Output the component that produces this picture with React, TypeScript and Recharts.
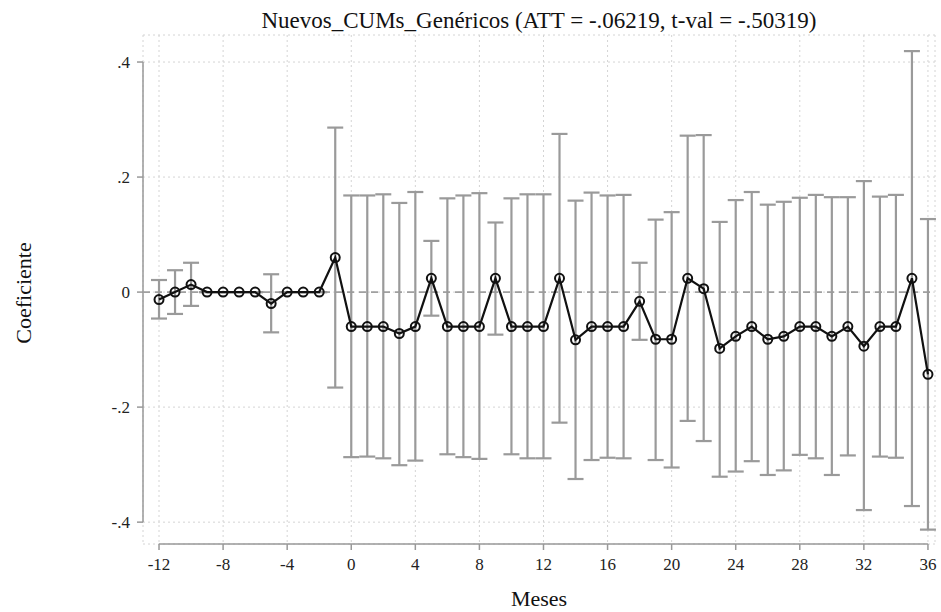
import React from "react";
import {
  ComposedChart,
  Line,
  XAxis,
  YAxis,
  CartesianGrid,
  ReferenceLine,
  ErrorBar,
} from "recharts";

const months = [
  -12, -11, -10, -9, -8, -7, -6, -5, -4, -3, -2, -1, 0, 1, 2, 3, 4, 5, 6, 7, 8,
  9, 10, 11, 12, 13, 14, 15, 16, 17, 18, 19, 20, 21, 22, 23, 24, 25, 26, 27,
  28, 29, 30, 31, 32, 33, 34, 35, 36,
];

const coef = [
  -0.013, 0, 0.013, 0, 0, 0, 0, -0.02, 0, 0, 0, 0.06, -0.06, -0.06, -0.06,
  -0.072, -0.06, 0.024, -0.06, -0.06, -0.06, 0.024, -0.06, -0.06, -0.06, 0.024,
  -0.083, -0.06, -0.06, -0.06, -0.016, -0.082, -0.082, 0.024, 0.006, -0.098,
  -0.077, -0.06, -0.082, -0.077, -0.06, -0.06, -0.077, -0.06, -0.094, -0.06,
  -0.06, 0.024, -0.143,
];

const ciLow = [
  -0.046, -0.038, -0.024, 0, 0, 0, 0, -0.07, 0, 0, 0, -0.166, -0.287, -0.286,
  -0.289, -0.301, -0.293, -0.041, -0.282, -0.287, -0.29, -0.074, -0.282, -0.289,
  -0.289, -0.227, -0.325, -0.292, -0.288, -0.289, -0.083, -0.292, -0.305,
  -0.224, -0.259, -0.321, -0.312, -0.294, -0.318, -0.31, -0.283, -0.289, -0.318,
  -0.284, -0.379, -0.286, -0.288, -0.372, -0.413,
];

const ciHigh = [
  0.021, 0.038, 0.051, 0, 0, 0, 0, 0.031, 0, 0, 0, 0.286, 0.168, 0.168, 0.17,
  0.155, 0.174, 0.089, 0.163, 0.168, 0.172, 0.121, 0.163, 0.17, 0.17, 0.275,
  0.159, 0.173, 0.168, 0.169, 0.051, 0.126, 0.139, 0.272, 0.273, 0.122, 0.16,
  0.174, 0.152, 0.157, 0.164, 0.169, 0.165, 0.165, 0.193, 0.166, 0.169, 0.419,
  0.127,
];

const xTicks = [-12, -8, -4, 0, 4, 8, 12, 16, 20, 24, 28, 32, 36];
const yTicks = [-0.4, -0.2, 0, 0.2, 0.4];
const yTickLabels = ["-.4", "-.2", "0", ".2", ".4"];

const titleText = "Nuevos_CUMs_Genéricos (ATT = -.06219, t-val = -.50319)";
const xTitle = "Meses";
const yTitle = "Coeficiente";

const data = months.map((m, i) => ({
  m,
  coef: coef[i],
  err: [coef[i] - ciLow[i], ciHigh[i] - coef[i]],
}));

const FONT = "'Liberation Serif', 'Times New Roman', serif";
const W = 941;
const H = 612;
const X_DOMAIN: [number, number] = [-13, 36.44];
const Y_DOMAIN: [number, number] = [-0.438, 0.447];

export default function App() {
  return (
    <div style={{ position: "absolute", left: 0, top: 0, width: W, height: H, background: "#fff" }}>
      <ComposedChart
        width={W}
        height={H}
        data={data}
        margin={{ top: 35, right: 6, bottom: 18, left: 0 }}
      >
        <CartesianGrid stroke="#d4d4d4" strokeDasharray="2 3" strokeWidth={1} />
        <XAxis
          dataKey="m"
          type="number"
          domain={X_DOMAIN}
          allowDataOverflow
          ticks={xTicks}
          interval={0}
          axisLine={false}
          tickLine={{ stroke: "#999", strokeWidth: 1.5 }}
          tickSize={6}
          tickMargin={8}
          height={50}
          tick={{ fill: "#222", fontSize: 17, fontFamily: FONT }}
        />
        <YAxis
          type="number"
          domain={Y_DOMAIN}
          allowDataOverflow
          ticks={yTicks}
          interval={0}
          width={143}
          axisLine={false}
          tickLine={{ stroke: "#999", strokeWidth: 1.5 }}
          tickSize={6}
          tickMargin={7}
          tick={{ fill: "#222", fontSize: 17, fontFamily: FONT }}
          tickFormatter={(v: number) => {
            const idx = yTicks.findIndex((t) => Math.abs(t - v) < 1e-9);
            return idx >= 0 ? yTickLabels[idx] : String(v);
          }}
        />
        <ReferenceLine
          segment={[
            { x: -12, y: Y_DOMAIN[0] },
            { x: 36, y: Y_DOMAIN[0] },
          ]}
          stroke="#999"
          strokeWidth={1.5}
          ifOverflow="visible"
        />
        <ReferenceLine
          segment={[
            { x: X_DOMAIN[0], y: -0.4 },
            { x: X_DOMAIN[0], y: 0.4 },
          ]}
          stroke="#999"
          strokeWidth={1.5}
          ifOverflow="visible"
        />
        <ReferenceLine y={0} stroke="#a0a0a0" strokeDasharray="7 5" strokeWidth={1.6} />
        <Line
          dataKey="coef"
          stroke="none"
          dot={false}
          activeDot={false}
          isAnimationActive={false}
          legendType="none"
        >
          <ErrorBar dataKey="err" width={8} stroke="#9a9a9a" strokeWidth={2.2} direction="y" />
        </Line>
        <Line
          dataKey="coef"
          type="linear"
          stroke="#111"
          strokeWidth={2.2}
          dot={{ r: 4.5, stroke: "#111", strokeWidth: 2, fill: "none" }}
          activeDot={false}
          isAnimationActive={false}
        />
      </ComposedChart>
      <svg
        width={W}
        height={H}
        style={{ position: "absolute", left: 0, top: 0, pointerEvents: "none" }}
      >
        <text x={539} y={28} textAnchor="middle" fontFamily={FONT} fontSize={23} fill="#111">
          {titleText}
        </text>
        <text x={539} y={606} textAnchor="middle" fontFamily={FONT} fontSize={22} fill="#111">
          {xTitle}
        </text>
        <text
          transform="translate(31, 293) rotate(-90)"
          textAnchor="middle"
          fontFamily={FONT}
          fontSize={22}
          fill="#111"
        >
          {yTitle}
        </text>
      </svg>
    </div>
  );
}
